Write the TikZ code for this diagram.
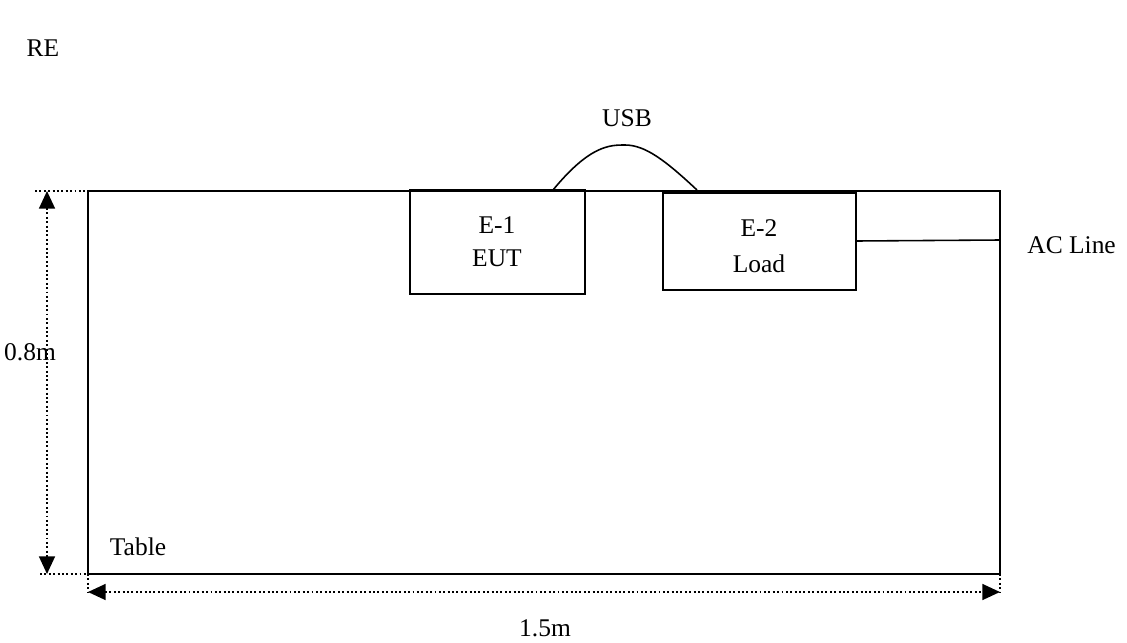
\documentclass[tikz,border=0pt]{standalone}
\usepackage{fontspec}
\setmainfont{Liberation Serif}
\usetikzlibrary{arrows.meta}
\tikzset{
  box/.style={draw, line width=1pt},
  dim/.style={line width=1.1pt, dash pattern=on 1.1pt off 1.4pt},
  dimarrow/.style={dim, {Triangle[length=10pt,width=9pt]}-{Triangle[length=10pt,width=9pt]}},
  lbl/.style={font=\fontsize{14.5}{17}\selectfont, inner sep=0pt}
}
\begin{document}
\begin{tikzpicture}[x=0.02cm, y=-0.02cm]
        \useasboundingbox (0,0) rectangle (1127,643);
        % テーブル
        \draw[box] (88,191) rectangle (1000,574);
        \node[lbl] (table) at (138,547) {Table};
        \node[lbl] (re) at (43,48) {RE};
        % 機器 E-1
        \draw[box] (410,190) rectangle (585,294);
        \node[lbl] (e1) at (497,225) {E-1};
        \node[lbl] (eut) at (497,258) {EUT};
        % 機器 E-2
        \draw[box] (663,193) rectangle (856,290);
        \node[lbl] (e2) at (759,228) {E-2};
        \node[lbl] (load) at (759,264) {Load};
        % USBケーブル
        \coordinate (usba) at (553,190);
        \coordinate (usbb) at (697,190);
        \draw[line width=0.9pt] (usba) .. controls (590,145) and (610,145) .. (625,145)
              .. controls (645,145) and (665,160) .. (usbb);
        \node[lbl] (usb) at (627,118) {USB};
        % 電源線
        \coordinate (acin) at (856,241);
        \coordinate (acout) at (1000,240);
        \draw[line width=0.9pt] (acin) -- (acout);
        \node[lbl, anchor=west] (ac) at (1027,245) {AC Line};
        % 寸法線
        \coordinate (tl) at (35,191);
        \coordinate (bl) at (40,574);
        \draw[dim] (tl) -- (88,191);
        \draw[dim] (bl) -- (110,574);
        \draw[dim] (88,574) -- (88,592);
        \draw[dim] (1000,574) -- (1000,592);
        \draw[dimarrow] (47,191) -- (47,574);
        \draw[dimarrow] (88,592) -- (1000,592);
        \node[lbl] (h) at (30,352) {0.8m};
        \node[lbl] (w) at (545,628) {1.5m};
      \end{tikzpicture}
\end{document}
